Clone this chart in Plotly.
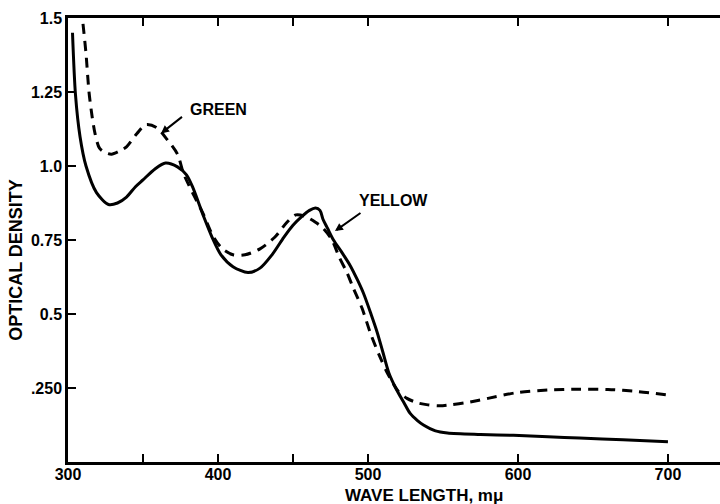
import plotly.graph_objects as go

# Wavelengths (m-mu) and optical densities
green_nm = [310, 312, 314, 316, 318, 321, 325, 329, 334, 339, 346, 352, 359, 366, 373,
            377, 383, 390, 397, 403, 410, 418, 428, 438, 446, 452, 458, 465, 470, 476,
            481, 486, 490, 496, 502, 508, 513, 520, 526, 533, 540, 548, 556, 565, 580,
            600, 620, 640, 660, 680, 700]
green_od = [1.48, 1.38, 1.25, 1.17, 1.11, 1.06, 1.045, 1.04, 1.05, 1.065, 1.11, 1.14, 1.13, 1.09, 1.04,
            0.975, 0.91, 0.84, 0.76, 0.72, 0.70, 0.70, 0.72, 0.76, 0.81, 0.835, 0.83, 0.81, 0.79, 0.75,
            0.69, 0.64, 0.59, 0.52, 0.43, 0.355, 0.30, 0.24, 0.215, 0.20, 0.193, 0.19, 0.194, 0.20, 0.215,
            0.235, 0.243, 0.246, 0.245, 0.238, 0.226]

yellow_nm = [303, 305, 308, 312, 319, 327, 333, 339, 345, 350, 358, 365, 373, 379, 383,
             390, 396, 402, 410, 420, 428, 436, 444, 450, 456, 461, 465, 468, 470, 473,
             477, 483, 488, 493, 497, 502, 506, 510, 514, 519, 524, 528, 533, 537, 545,
             553, 575, 597, 620, 641, 670, 700]
yellow_od = [1.45, 1.24, 1.10, 1.00, 0.91, 0.87, 0.875, 0.895, 0.93, 0.953, 0.99, 1.01, 0.997, 0.97, 0.93,
             0.835, 0.76, 0.70, 0.66, 0.64, 0.655, 0.70, 0.76, 0.80, 0.83, 0.85, 0.858, 0.85, 0.82, 0.79,
             0.75, 0.705, 0.665, 0.615, 0.57, 0.50, 0.44, 0.37, 0.30, 0.245, 0.20, 0.165, 0.14, 0.125, 0.105,
             0.098, 0.093, 0.09, 0.085, 0.081, 0.075, 0.068]

x_tickvals = [300, 350, 400, 450, 500, 600, 700]
x_ticktext = ["300", "", "400", "", "500", "600", "700"]
y_tickvals = [0.25, 0.5, 0.75, 1.0, 1.25, 1.5]
y_ticktext = [".250", "0.5", "0.75", "1.0", "1.25", "1.5"]

fig = go.Figure()
fig.add_trace(go.Scatter(x=green_nm, y=green_od, mode="lines", name="GREEN",
                         line=dict(color="black", width=3, dash="10px,7px", shape="spline", smoothing=0.8)))
fig.add_trace(go.Scatter(x=yellow_nm, y=yellow_od, mode="lines", name="YELLOW",
                         line=dict(color="black", width=3, shape="spline", smoothing=0.8)))

tickfont = dict(family="Liberation Sans", size=16, color="black", weight="bold")
fig.update_layout(
    width=720, height=504,
    margin=dict(l=68, r=0, t=18, b=42),
    paper_bgcolor="white", plot_bgcolor="white",
    showlegend=False,
    xaxis=dict(range=[300, 734.7], tickvals=x_tickvals, ticktext=x_ticktext,
               ticks="inside", ticklen=8, tickwidth=2, tickcolor="black",
               showline=True, linewidth=2.5, linecolor="black", mirror="ticks",
               showgrid=False, zeroline=False, tickfont=tickfont, ticklabelstandoff=-4),
    yaxis=dict(range=[0, 1.5], tickvals=y_tickvals, ticktext=y_ticktext,
               ticks="inside", ticklen=8, tickwidth=2, tickcolor="black",
               showline=True, linewidth=2.5, linecolor="black", mirror=False,
               showgrid=False, zeroline=False, tickfont=tickfont),
)

labfont = dict(family="Liberation Sans", size=16, color="black", weight="bold")
fig.add_annotation(xref="paper", yref="paper", x=0.546, y=-0.076, text="WAVE LENGTH, mμ",
                   showarrow=False, font=dict(family="Liberation Sans", size=17, color="black", weight="bold"),
                   xanchor="center", yanchor="middle")
fig.add_annotation(xref="paper", yref="paper", x=-0.08, y=0.455, text="OPTICAL DENSITY",
                   showarrow=False, textangle=-90,
                   font=dict(family="Liberation Sans", size=18, color="black", weight="bold"),
                   xanchor="center", yanchor="middle")
fig.add_annotation(x=362, y=1.11, ax=377, ay=1.17, axref="x", ayref="y", text="",
                   showarrow=True, arrowhead=2, arrowsize=0.8, arrowwidth=2, arrowcolor="black")
fig.add_annotation(x=380, y=1.19, text="GREEN", showarrow=False, xanchor="left", yanchor="middle", font=labfont)
fig.add_annotation(x=478, y=0.78, ax=496, ay=0.845, axref="x", ayref="y", text="",
                   showarrow=True, arrowhead=2, arrowsize=0.8, arrowwidth=2, arrowcolor="black")
fig.add_annotation(x=492.5, y=0.885, text="YELLOW", showarrow=False, xanchor="left", yanchor="middle", font=labfont)

fig.write_html("out.html")
